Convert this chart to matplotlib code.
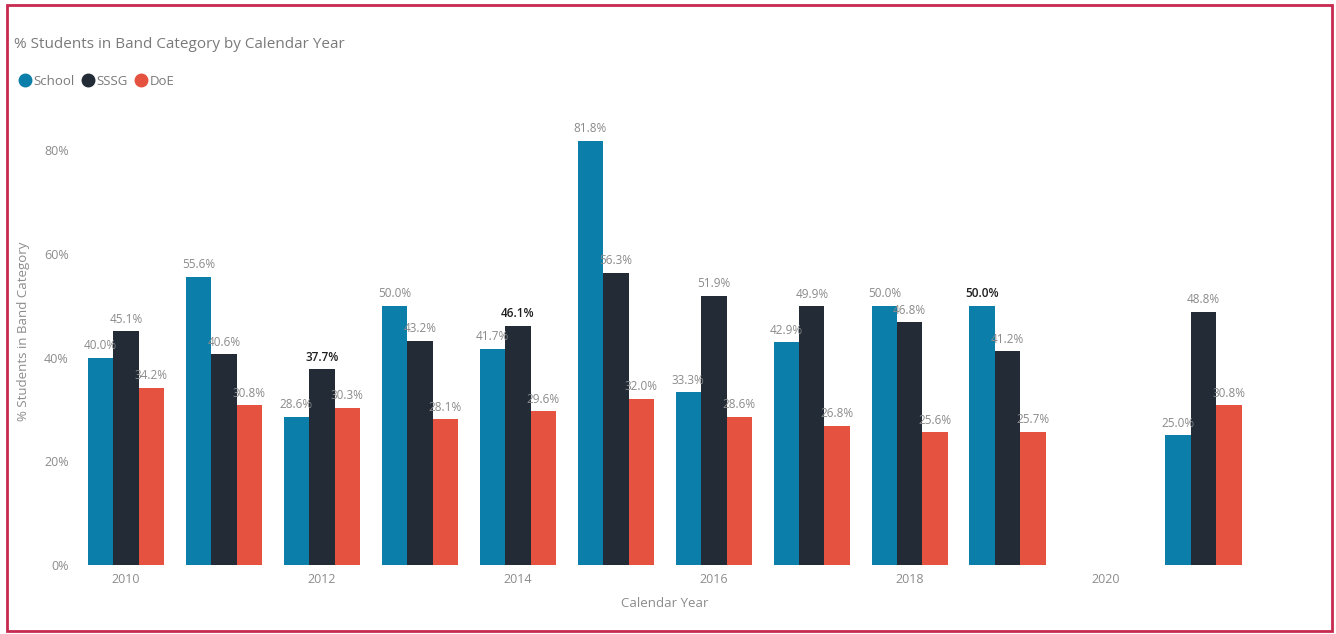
import matplotlib.pyplot as plt
import numpy as np
from matplotlib.patches import Rectangle
from matplotlib.lines import Line2D

# % of students in band category per calendar year (2020 has no data)
years = [2010, 2011, 2012, 2013, 2014, 2015, 2016, 2017, 2018, 2019, 2021]
school = [40.0, 55.6, 28.6, 50.0, 41.7, 81.8, 33.3, 42.9, 50.0, 50.0, 25.0]
sssg = [45.1, 40.6, 37.7, 43.2, 46.1, 56.3, 51.9, 49.9, 46.8, 41.2, 48.8]
doe = [34.2, 30.8, 30.3, 28.1, 29.6, 32.0, 28.6, 26.8, 25.6, 25.7, 30.8]
series_names = ['School', 'SSSG', 'DoE']
year_ticks = [2010, 2012, 2014, 2016, 2018, 2020]
y_ticks = [0, 20, 40, 60, 80]

# labels printed darker than the rest
dark_labels = {('SSSG', 2012), ('SSSG', 2014), ('School', 2019)}

colors = ['#0b7fa9', '#222b36', '#e5523f']
label_grey = '#8a8a8a'

plt.rcParams['font.family'] = ['Open Sans', 'DejaVu Sans']

fig = plt.figure(figsize=(13.36, 6.34), dpi=100)
ax = fig.add_axes([0.0576, 0.1088, 0.880, 0.7364])

x = np.array(years, dtype=float)
w = 0.26
for i, (name, vals) in enumerate(zip(series_names, [school, sssg, doe])):
    xs = x + (i - 1) * w
    ax.bar(xs, vals, width=w, color=colors[i], label=name, zorder=2)
    for bx, v, yr in zip(xs, vals, years):
        dark = (name, yr) in dark_labels
        ax.annotate(f'{v:.1f}%', (bx, v), xytext=(0, 4), textcoords='offset points',
                    ha='center', va='bottom', fontsize=8.5,
                    color='#1e1e1e' if dark else label_grey,
                    fontweight='semibold' if dark else 'normal')

ax.set_xlim(2009.5, 2021.5)
ax.set_ylim(0, 90)
ax.set_xticks(year_ticks)
ax.set_xticklabels([str(t) for t in year_ticks])
ax.set_yticks(y_ticks)
ax.set_yticklabels([f'{t}%' for t in y_ticks])
ax.tick_params(axis='both', length=0, labelsize=9, labelcolor='#8c8c8c')
ax.tick_params(axis='x', pad=6)
ax.tick_params(axis='y', pad=6)
for s in ax.spines.values():
    s.set_visible(False)

ax.set_xlabel('Calendar Year', fontsize=9.5, color='#8c8c8c', labelpad=8)
ax.set_ylabel('% Students in Band Category', fontsize=9.5, color='#8c8c8c')
ax.yaxis.set_label_coords(-0.04, 0.5)

fig.text(0.0105, 0.93, '% Students in Band Category by Calendar Year',
         fontsize=11, color='#7a7a7a', va='center', ha='left')

handles = [Line2D([], [], marker='o', linestyle='none', markersize=9,
                  markerfacecolor=c, markeredgecolor=c) for c in colors]
fig.legend(handles, series_names, loc='center left', bbox_to_anchor=(0.006, 0.872),
           ncol=3, frameon=False, handlelength=0.7, handletextpad=0.35,
           columnspacing=0.6, fontsize=9.5, labelcolor='#7a7a7a')

# outer frame
fig.patches.append(Rectangle((0.0055, 0.004), 0.9915, 0.988, transform=fig.transFigure,
                             fill=False, edgecolor='#c62a4e', linewidth=2))

fig.savefig('out.png', dpi=100)
